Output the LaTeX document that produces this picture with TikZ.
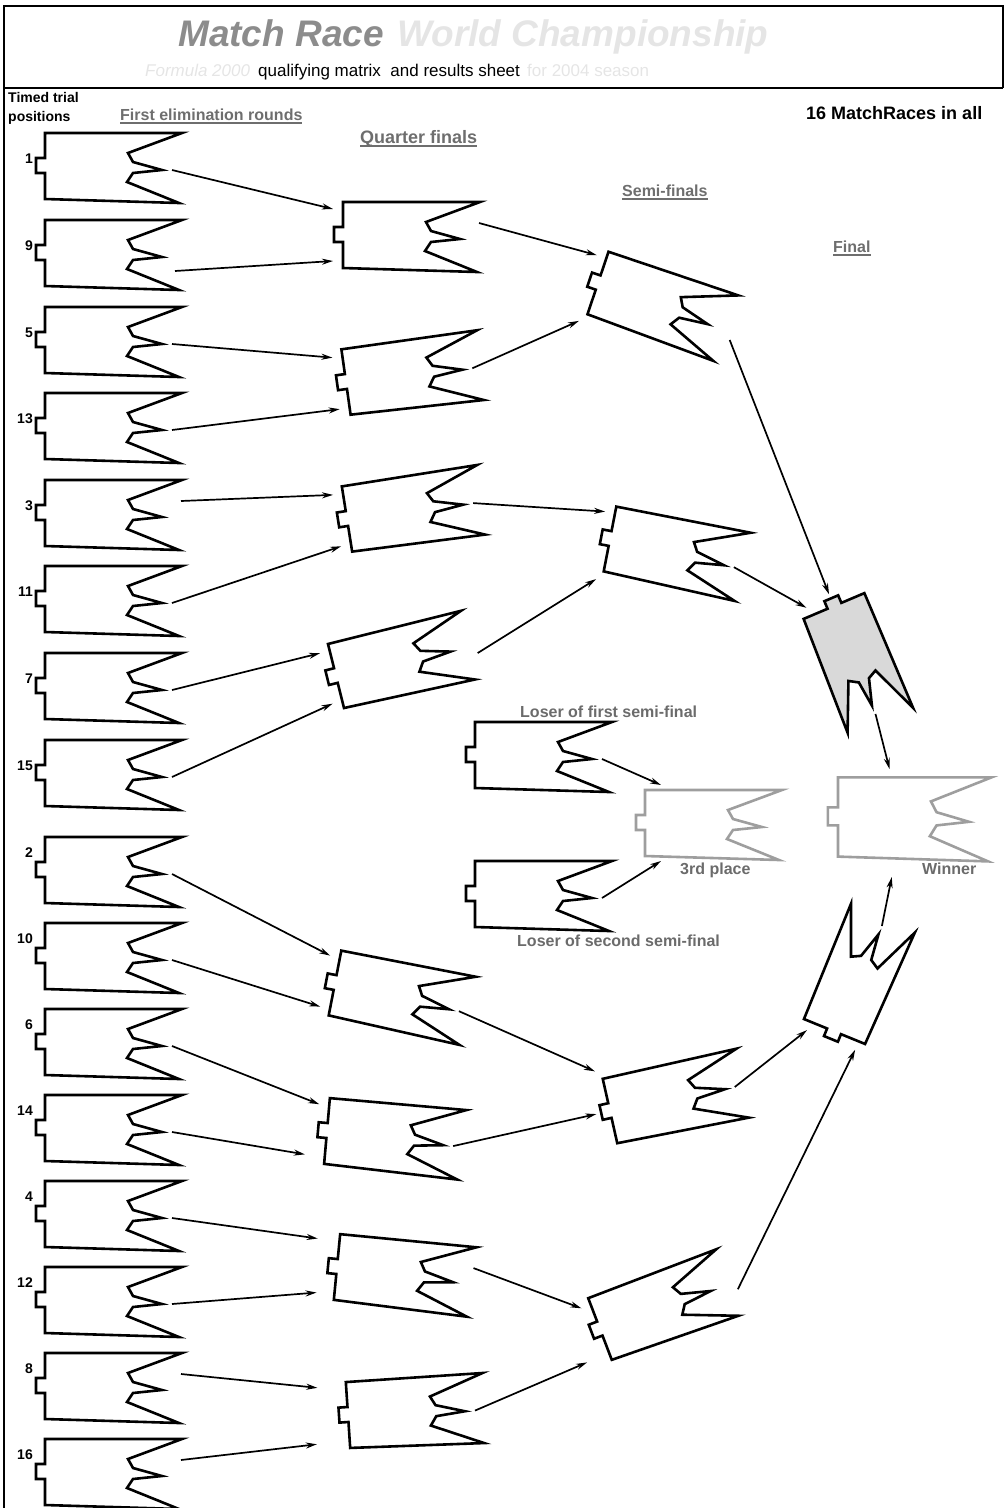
\documentclass[tikz,border=0pt]{standalone}
\usepackage{fontspec}
\setmainfont{Liberation Sans}
\usepackage{tikz}
\usetikzlibrary{arrows.meta}
\tikzstyle{race} = [draw=black, fill=white, line width=2.6pt, line join=miter]
\tikzstyle{finalrace} = [race, fill=black!15]
\tikzstyle{placerace} = [race, draw=black!38]
\tikzstyle{adv} = [->, line width=1.7pt]
\tikzstyle{pageframe} = [line width=2.2pt]
\tikzstyle{seedno} = [anchor=east, inner sep=0pt, font=\bfseries\fontsize{14}{14}\selectfont]
\tikzstyle{seedhead} = [anchor=base west, inner sep=0pt, font=\bfseries\fontsize{14}{14}\selectfont]
\tikzstyle{stage} = [anchor=base west, inner sep=0pt, text=black!57, font=\bfseries\fontsize{16}{16}\selectfont]
\tikzstyle{racenote} = [stage, text=black!58]
\tikzstyle{titletext} = [anchor=base west, inner sep=0pt, text=black!45, font=\bfseries\itshape\fontsize{37}{37}\selectfont]
\tikzstyle{headline} = [anchor=base west, inner sep=0pt, font=\fontsize{17}{17}\selectfont]
\tikzstyle{faded} = [headline, text=black!10]
\newcommand{\stagetitle}[1]{\setbox0=\hbox{#1}\rlap{\rule[-4pt]{\wd0}{1.6pt}}\box0}
\tikzset{
  flag/.pic={
    \draw[pic actions] (0,-33) -- (137,-33) -- (83,-13) -- (88,-4) -- (117,4) -- (88,7)
      -- (82,16) -- (134,37) -- (0,33) -- (0,7) -- (-9,7) -- (-9,-8) -- (0,-8) -- cycle;
    \coordinate (-in1) at (-10,-26);
    \coordinate (-in2) at (-10,26);
    \coordinate (-high) at (-6,-42);
    \coordinate (-low) at (-6,42);
    \coordinate (-tab) at (-14,0);
    \coordinate (-out) at (127,4);
    \coordinate (-outa) at (136,-12);
    \coordinate (-outb) at (130,18);
    \coordinate (-far) at (143,12);
    \coordinate (-tl) at (16,-38);
    \coordinate (-bl) at (16,38);
    \coordinate (-top) at (46,-40);
    \coordinate (-bot) at (48,50);
  }
}
\begin{document}
\begin{tikzpicture}[x=1pt, y=-1pt, >={Stealth[length=11pt,width=6pt]}]
        \useasboundingbox (0,0) rectangle (1006,1508);
        \draw[pageframe] (1003,88) -- (1003,6) -- (4,6) -- (4,1508);
        \draw[pageframe] (4,88) -- (1003,88);
        % headings
        \node[titletext] (title) at (178,46) {Match Race};
        \node[titletext, text=black!10] (champ) at (397,46) {World Championship};
        \node[faded, font=\itshape\fontsize{17}{17}\selectfont] (formula) at (145,76) {Formula 2000};
        \node[headline] (matrix) at (258,76) {qualifying matrix~ and results sheet};
        \node[faded] (season) at (527,76) {for 2004 season};
        \node[seedhead] (timed) at (8,102) {Timed trial};
        \node[seedhead] (pos) at (8,121) {positions};
        \node[stage] (first) at (120,120) {\stagetitle{First elimination rounds}};
        \node[stage, font=\bfseries\fontsize{18}{18}\selectfont] (quarter) at (360,143) {\stagetitle{Quarter finals}};
        \node[stage] (semi) at (622,196) {\stagetitle{Semi-finals}};
        \node[stage] (final) at (833,252) {\stagetitle{Final}};
        \node[seedhead, font=\bfseries\fontsize{18}{18}\selectfont] (all) at (806,119) {16 MatchRaces in all};
        % first round
        \foreach \s/\y/\d in {1/166/7, 9/253/7, 5/340/7, 13/426/7, 3/513/7, 11/599/7, 7/686/7, 15/773/7,
            2/870/17, 10/956/17, 6/1042/17, 14/1128/17, 4/1214/17, 12/1300/17, 8/1386/17, 16/1472/17}{
          \pic[race] (s\s) at (45,\y) {flag};
          \node[seedno] (n\s) at (33,\y-\d) {\s};
        }
        % quarter finals
        \pic[race] (q1) at (343,235) {flag};
        \pic[race, rotate=8] (q2) at (346,382) {flag};
        \pic[race, rotate=9] (q3) at (347,519) {flag};
        \pic[race, rotate=14] (q4) at (336,676) {flag};
        \pic[race, rotate=-11] (q5) at (335,983) {flag};
        \pic[race, rotate=-5] (q6) at (327,1131) {flag};
        \pic[race, rotate=-5.5] (q7) at (337,1267) {flag};
        \pic[race, rotate=3.8] (q8) at (348,1415) {flag};
        % semi-finals
        \pic[race, rotate=-18.6] (h1) at (598,283) {flag};
        \pic[race, rotate=-11] (h2) at (610,539) {flag};
        \pic[race, rotate=12.7] (h3) at (610,1111) {flag};
        \pic[race, rotate=20.9] (h4) at (600,1329) {flag};
        % final and places
        \pic[finalrace, rotate=-67, xscale=0.91] (f1) at (834,606) {flag};
        \pic[race, rotate=67.8, xscale=0.91] (f2) at (834.5,1031.5) {flag};
        \pic[race] (l1) at (475,755) {flag};
        \pic[race] (l2) at (475,894) {flag};
        \pic[placerace] (third) at (645,823) {flag};
        \pic[placerace, xscale=1.12, yscale=1.2] (win) at (838,817) {flag};
        \node[racenote] (lose1) at (520,717) {Loser of first semi-final};
        \node[racenote] (lose2) at (517,946) {Loser of second semi-final};
        \node[racenote] (thirdlbl) at (680,874) {3rd place};
        \node[racenote] (winlbl) at (922,874) {Winner};
        % arrows
        \draw[adv] (s1-out) -- (q1-in1);
        \draw[adv] (s9-outb) -- (q1-in2);
        \draw[adv] (s5-out) -- (q2-in1);
        \draw[adv] (s13-out) -- (q2-in2);
        \draw[adv] (s3-outa) -- (q3-in1);
        \draw[adv] (s11-out) -- (q3-in2);
        \draw[adv] (s7-out) -- (q4-in1);
        \draw[adv] (s15-out) -- (q4-in2);
        \draw[adv] (s2-out) -- (q5-in1);
        \draw[adv] (s10-out) -- (q5-in2);
        \draw[adv] (s6-out) -- (q6-in1);
        \draw[adv, shorten >=10pt] (s14-out) -- (q6-in2);
        \draw[adv, shorten >=12pt] (s4-out) -- (q7-in1);
        \draw[adv, shorten >=8pt] (s12-out) -- (q7-in2);
        \draw[adv, shorten >=19pt] (s8-outa) -- (q8-in1);
        \draw[adv, shorten >=23pt] (s16-outa) -- (q8-in2);
        \draw[adv] (q1-outa) -- (h1-in1);
        \draw[adv] (q2-out) -- (h1-low);
        \draw[adv] (q3-out) -- (h2-in1);
        \draw[adv] (q4-far) -- (h2-low);
        \draw[adv] (q5-out) -- (h3-high);
        \draw[adv] (q6-out) -- (h3-tab);
        \draw[adv] (q7-outa) -- (h4-in1);
        \draw[adv, shorten >=14pt] (q8-out) -- (h4-in2);
        \draw[adv] (h1-far) -- (f1-tab);
        \draw[adv] (h2-out) -- (f1-in2);
        \draw[adv] (h3-out) -- (f2-in1);
        \draw[adv] (h4-far) -- (f2-in2);
        \draw[adv] (f1-out) -- (win-top);
        \draw[adv] (f2-out) -- (win-bot);
        \draw[adv] (l1-out) -- (third-tl);
        \draw[adv] (l2-out) -- (third-bl);
      \end{tikzpicture}
\end{document}
